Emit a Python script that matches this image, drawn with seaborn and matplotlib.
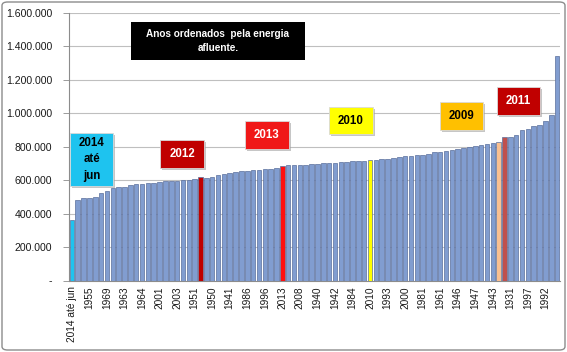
import numpy as np
import pandas as pd
import matplotlib.pyplot as plt
import seaborn as sns
from matplotlib.patches import Rectangle, FancyBboxPatch

# Energia afluente por ano, ordenada
values = [
    360000, 478000, 490000, 495000, 500000, 520000, 532000, 555000, 557000, 560000,
    570000, 575000, 578000, 580000, 585000, 590000, 592000, 595000, 597000, 600000,
    603000, 607000, 618000, 612000, 620000, 628000, 635000, 645000, 648000, 652000,
    655000, 658000, 662000, 665000, 668000, 675000, 685000, 688000, 690000, 692000,
    693000, 695000, 697000, 700000, 702000, 705000, 708000, 710000, 712000, 715000,
    716000, 720000, 722000, 725000, 728000, 732000, 738000, 742000, 745000, 748000,
    752000, 758000, 765000, 768000, 772000, 778000, 784000, 792000, 796000, 802000,
    808000, 815000, 822000, 829000, 855000, 858000, 870000, 898000, 903000, 922000,
    929000, 955000, 989000, 1342000,
]
tick_labels = [
    '2014 até jun', '1955', '1969', '1963', '1964', '2001', '2003', '1951', '1950',
    '1941', '1986', '1996', '2013', '2008', '1940', '1942', '1984', '2010', '1993',
    '2000', '1981', '1961', '1946', '1947', '1943', '1931', '1997', '1992',
]
highlight = {0: '#1ec3ef', 22: '#c00000', 36: '#ff1010', 51: '#ffff00', 73: '#fac090', 74: '#c0504d'}
base_color = '#819dd0'

ytick_vals = [0, 200000, 400000, 600000, 800000, 1000000, 1200000, 1400000, 1600000]
ytick_text = ['-', '200.000', '400.000', '600.000', '800.000', '1.000.000', '1.200.000', '1.400.000', '1.600.000']

# boxes: text, face, text colour, (x0, y0, x1, y1) in pixels
boxes = [
    ('2014\naté\njun', '#1ec3ef', 'black', (70, 133, 113, 186)),
    ('2012', '#c00000', 'white', (160, 140, 204, 168)),
    ('2013', '#f01818', 'white', (245, 121, 289, 149)),
    ('2010', '#ffff00', 'black', (329, 107, 373, 134)),
    ('2009', '#ffc000', 'black', (440, 102, 483, 130)),
    ('2011', '#c00000', 'white', (497, 87, 540, 115)),
]

W, H = 567, 352
df = pd.DataFrame({'pos': range(len(values)), 'valor': values})
colors = [highlight.get(i, base_color) for i in range(len(values))]

sns.set_style('white')
plt.rcParams['font.family'] = ['Liberation Sans', 'DejaVu Sans']

fig = plt.figure(figsize=(W / 100, H / 100), dpi=100)
ax = fig.add_axes([69 / W, 1 - 280.5 / H, (560 - 69) / W, (280.5 - 12.7) / H])

sns.barplot(data=df, x='pos', y='valor', hue='pos', palette=colors, legend=False,
            width=0.78, saturation=1, edgecolor='#5a6f9c', linewidth=0.5, ax=ax, zorder=3)

ax.set_xlim(-0.5, len(values) - 0.5)
ax.set_ylim(0, 1600000)
ax.set_yticks(ytick_vals)
ax.set_yticklabels(ytick_text, fontsize=7.6, color='#1a1a1a')
ax.yaxis.grid(True, color='#bfbfbf', linewidth=0.8, zorder=0)
ax.xaxis.grid(False)

ax.set_xticks(range(0, len(values), 3))
ax.set_xticklabels(tick_labels, rotation=90, fontsize=7.3, color='#1a1a1a')
ax.set_xticks(np.arange(-0.5, len(values), 1), minor=True)
ax.tick_params(axis='x', which='major', length=0, pad=4)
ax.tick_params(axis='x', which='minor', length=3, color='#8c8c8c', width=0.6, direction='out')
ax.tick_params(axis='y', length=4, color='#8c8c8c', width=0.6, direction='out', pad=8, left=True)
ax.set_xlabel('')
ax.set_ylabel('')

for s in ['top', 'right']:
    ax.spines[s].set_visible(False)
for s in ['left', 'bottom']:
    ax.spines[s].set_color('#8c8c8c')
    ax.spines[s].set_linewidth(0.8)

# annotation boxes
for txt, face, tc, (x0, y0, x1, y1) in boxes:
    fig.patches.append(Rectangle((x0 / W + 2 / W, 1 - y1 / H - 2 / H), (x1 - x0) / W, (y1 - y0) / H,
                                 transform=fig.transFigure, facecolor='#a0a0a0', edgecolor='none',
                                 alpha=0.6, zorder=5))
    fig.patches.append(Rectangle((x0 / W, 1 - y1 / H), (x1 - x0) / W, (y1 - y0) / H,
                                 transform=fig.transFigure, facecolor=face, edgecolor='#d9d9d9',
                                 linewidth=0.6, zorder=6))
    fig.text((x0 + x1) / 2 / W, 1 - (y0 + y1) / 2 / H, txt, ha='center', va='center',
             fontsize=8.3, fontweight='bold', color=tc, linespacing=1.5, zorder=7)

# title box
fig.patches.append(Rectangle((131 / W, 1 - 60 / H), (305 - 131) / W, (60 - 22) / H,
                             transform=fig.transFigure, facecolor='black', edgecolor='none', zorder=6))
fig.text(218 / W, 1 - 41 / H, 'Anos ordenados  pela energia\nafluente.', ha='center', va='center',
         fontsize=7.2, fontweight='bold', color='white', linespacing=1.5, zorder=7)

# outer chart border
fig.patches.append(FancyBboxPatch((2 / W, 2 / H), 1 - 4 / W, 1 - 4 / H, boxstyle='round,pad=0,rounding_size=0.01',
                                  transform=fig.transFigure, facecolor='none', edgecolor='#8c8c8c',
                                  linewidth=1.0, zorder=1))

fig.savefig('out.png', dpi=100)
